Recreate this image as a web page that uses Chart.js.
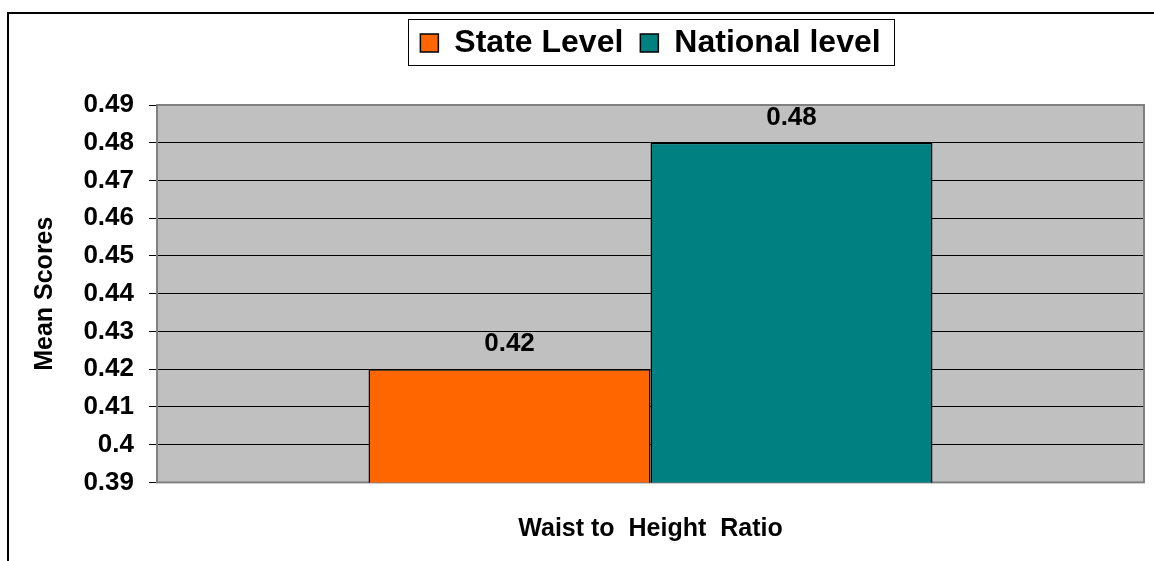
<!DOCTYPE html>
<html>
<head>
<meta charset="utf-8">
<script src="https://cdn.jsdelivr.net/npm/chart.js@4.4.0/dist/chart.umd.min.js"></script>
<style>
  html, body { margin: 0; padding: 0; background: #fff; }
  #wrap { position: relative; width: 1154px; height: 561px; overflow: hidden; }
  #frame { position: absolute; left: 7px; top: 12px; width: 1200px; height: 600px; border-left: 2px solid #000; border-top: 2px solid #000; }
  #chart { position: absolute; left: 0; top: 0; }
</style>
</head>
<body>
<div id="wrap">
  <div id="frame"></div>
  <canvas id="chart" width="1154" height="561"></canvas>
</div>
<script>
const categories = [''];
const seriesNames = ['State Level', 'National level'];
const stateLevel = [0.42];
const nationalLevel = [0.48];
const seriesColors = ['#FF6600', '#008080'];
const yTickLabels = ['0.39', '0.4', '0.41', '0.42', '0.43', '0.44', '0.45', '0.46', '0.47', '0.48', '0.49'];
const yTitle = 'Mean Scores';
const xTitle = 'Waist to  Height  Ratio';

const fontFamily = '"Liberation Sans", Arial, sans-serif';
Chart.defaults.font.family = fontFamily;
Chart.defaults.color = '#000';

// grey plot background
const plotBackground = {
  id: 'plotBackground',
  beforeDraw(chart) {
    const { ctx, chartArea: a } = chart;
    ctx.save();
    ctx.fillStyle = '#C0C0C0';
    ctx.fillRect(a.left, a.top, a.right - a.left, a.bottom - a.top);
    ctx.restore();
  }
};

// grey border round the plot, under the bars
const plotFrame = {
  id: 'plotFrame',
  beforeDatasetsDraw(chart) {
    const { ctx, chartArea: a } = chart;
    ctx.save();
    ctx.strokeStyle = '#808080';
    ctx.lineWidth = 2;
    ctx.strokeRect(a.left, a.top, a.right - a.left, a.bottom - a.top);
    ctx.restore();
  }
};

// value written above each bar
const valueLabels = {
  id: 'valueLabels',
  afterDatasetsDraw(chart) {
    const { ctx } = chart;
    ctx.save();
    ctx.font = 'bold 26px ' + fontFamily;
    ctx.fillStyle = '#000';
    ctx.textAlign = 'center';
    ctx.textBaseline = 'middle';
    chart.data.datasets.forEach((ds, i) => {
      chart.getDatasetMeta(i).data.forEach((bar, j) => {
        ctx.fillText(ds.data[j].toFixed(2), bar.x, bar.y - 25);
      });
    });
    ctx.restore();
  }
};

// box round the legend
const legendBox = {
  id: 'legendBox',
  afterDraw(chart) {
    const boxes = chart.legend.legendHitBoxes;
    if (!boxes || !boxes.length) return;
    const first = boxes[0];
    const last = boxes[boxes.length - 1];
    const { ctx } = chart;
    ctx.save();
    ctx.strokeStyle = '#000';
    ctx.lineWidth = 1;
    const x1 = Math.round(first.left - 12) + 0.5;
    const x2 = Math.round(last.left + last.width + 13) + 0.5;
    const y1 = Math.round(first.top - 8) + 0.5;
    const y2 = Math.round(first.top + first.height + 6) + 0.5;
    ctx.strokeRect(x1, y1, x2 - x1, y2 - y1);
    ctx.restore();
  }
};

const ctx = document.getElementById('chart').getContext('2d');
new Chart(ctx, {
  type: 'bar',
  data: {
    labels: categories,
    datasets: [{
      label: seriesNames[0],
      data: stateLevel,
      backgroundColor: seriesColors[0],
      borderColor: '#000',
      borderWidth: 1.5
    }, {
      label: seriesNames[1],
      data: nationalLevel,
      backgroundColor: seriesColors[1],
      borderColor: '#000',
      borderWidth: 1.5
    }]
  },
  options: {
    responsive: false,
    animation: false,
    layout: { padding: { top: 10, left: 0, right: 10, bottom: 16.6 } },
    datasets: {
      bar: { categoryPercentage: 0.5714, barPercentage: 1 }
    },
    plugins: {
      legend: {
        position: 'top',
        fullSize: false,
        labels: {
          font: { size: 32, weight: 'bold' },
          boxWidth: 18,
          boxHeight: 18,
          padding: 17,
          color: '#000'
        }
      },
      // empty spacer between legend and plot
      subtitle: {
        display: true,
        text: '',
        weight: 500,
        padding: 0,
        font: { size: 36, lineHeight: 1 }
      },
      tooltip: { enabled: false }
    },
    scales: {
      x: {
        grid: { display: false, drawTicks: false, tickLength: 0 },
        border: { display: false },
        ticks: { display: false },
        title: {
          display: true,
          text: xTitle,
          font: { size: 25, weight: 'bold' },
          padding: { top: 32, bottom: 0 }
        }
      },
      y: {
        min: parseFloat(yTickLabels[0]),
        max: parseFloat(yTickLabels[yTickLabels.length - 1]),
        afterFit(scale) { scale.width = 157; },
        border: { display: false },
        grid: {
          color: '#000',
          lineWidth: 1,
          tickColor: '#000',
          tickLength: 8
        },
        ticks: {
          stepSize: 0.01,
          padding: 15,
          font: { size: 26, weight: 'bold' },
          callback: (value) => yTickLabels[Math.round((value - 0.39) * 100)]
        },
        title: {
          display: true,
          text: yTitle,
          font: { size: 25, weight: 'bold' },
          padding: { top: 30, bottom: 0 }
        }
      }
    }
  },
  plugins: [plotBackground, plotFrame, valueLabels, legendBox]
});
</script>
</body>
</html>
